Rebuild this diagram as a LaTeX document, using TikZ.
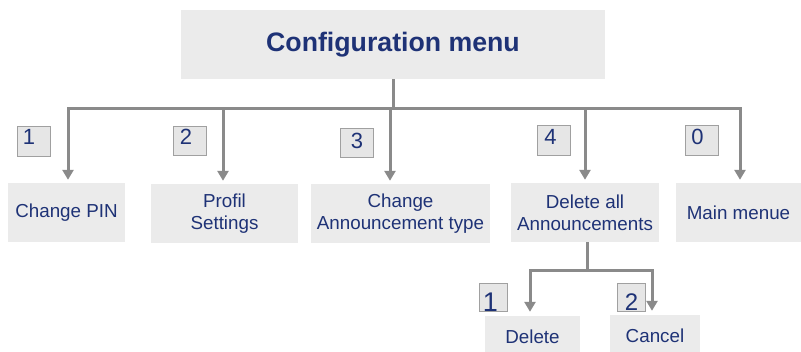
\documentclass[tikz,border=0pt]{standalone}
\usepackage{fontspec}
\setmainfont{Liberation Sans}
\usetikzlibrary{arrows.meta}
\definecolor{boxfill}{HTML}{EBEBEB}
\definecolor{numfill}{HTML}{E6E6E6}
\definecolor{numdraw}{HTML}{A0A0A0}
\definecolor{linecol}{HTML}{8A8A8A}
\definecolor{txtblue}{RGB}{30,50,118}
% digit placed with an offset from the node centre: {dx}{dy}{digit}
\newcommand\mydig[3]{\raisebox{#2}[0pt][0pt]{\hspace*{#1}\makebox[0pt]{#3}\hspace*{-#1}}}
\tikzset{
  box/.style={fill=boxfill, inner sep=0pt, align=center, text=txtblue,
    font=\fontsize{18.8}{22}\selectfont},
  numbox/.style={fill=numfill, draw=numdraw, line width=1pt, inner sep=0pt,
    text=txtblue, font=\fontsize{22}{24}\selectfont},
  ln/.style={draw=linecol, line width=3pt},
  arr/.style={ln, -{Triangle[width=11pt,length=10pt]}, shorten >=3pt}
}
\begin{document}
\begin{tikzpicture}[x=1pt,y=-1pt]
\useasboundingbox (0,0) rectangle (801,351);
\clip (0,0) rectangle (801,351);
% title
\node[box, minimum width=424, minimum height=69,
  font=\fontsize{26.7}{30}\selectfont\bfseries] (title) at (393,44.5) {Configuration menu};
% level 1 boxes
\node[box, minimum width=117, minimum height=59] (b1) at (66.5,212.5) {Change PIN};
\node[box, minimum width=147, minimum height=59] (b2) at (224.5,213.5) {Profil\\Settings};
\node[box, minimum width=179, minimum height=59] (b3) at (400.5,213.5) {Change\\Announcement type};
\node[box, minimum width=148, minimum height=59] (b4) at (585,212.5) {Delete all\\Announcements};
\node[box, minimum width=126, minimum height=59] (b0) at (738.5,212.5) {Main menue};
% level 2 boxes
\node[box, minimum width=95, minimum height=42] (del) at (532.5,337) {Delete};
\node[box, minimum width=90, minimum height=42] (can) at (655,336) {Cancel};
% number boxes
\node[numbox, minimum width=33, minimum height=30] (n1) at (33.5,141.5) {\mydig{-4.5pt}{-2.8pt}{1}};
\node[numbox, minimum width=33, minimum height=29] (n2) at (189.5,141) {\mydig{-3.5pt}{-3.7pt}{2}};
\node[numbox, minimum width=33, minimum height=29] (n3) at (356.5,142.5) {\mydig{0.5pt}{-5.5pt}{3}};
\node[numbox, minimum width=33, minimum height=30] (n4) at (553.5,140) {\mydig{-3pt}{-4pt}{4}};
\node[numbox, minimum width=33, minimum height=30] (n0) at (701.5,140) {\mydig{-4pt}{-4pt}{0}};
\node[numbox, minimum width=28, minimum height=28, font=\fontsize{27}{29}\selectfont] (m1) at (493,297) {\mydig{-2.5pt}{-14pt}{1}};
\node[numbox, minimum width=28, minimum height=28, font=\fontsize{24}{26}\selectfont] (m2) at (631,297) {\mydig{0.5pt}{-13pt}{2}};
% connectors
\coordinate (bus) at (393,108);
\draw[ln] (title.south) -- (bus);
\draw[arr] (bus) -| ([xshift=1.5pt]b1.north);
\draw[arr] (bus) -| ([xshift=-1.5pt]b2.north);
\draw[arr] (bus) -| ([xshift=-10.5pt]b3.north);
\draw[arr] (bus) -| (b4.north);
\draw[arr] (bus) -| ([xshift=1.5pt]b0.north);
\coordinate (split) at (587,270);
\draw[ln] ([xshift=2pt]b4.south) -- (split);
\draw[arr, shorten >=4pt] (split) -| ([xshift=-2.5pt]del.north);
\draw[arr, shorten >=4pt] (split) -| ([xshift=-3pt]can.north);
\end{tikzpicture}
\end{document}
